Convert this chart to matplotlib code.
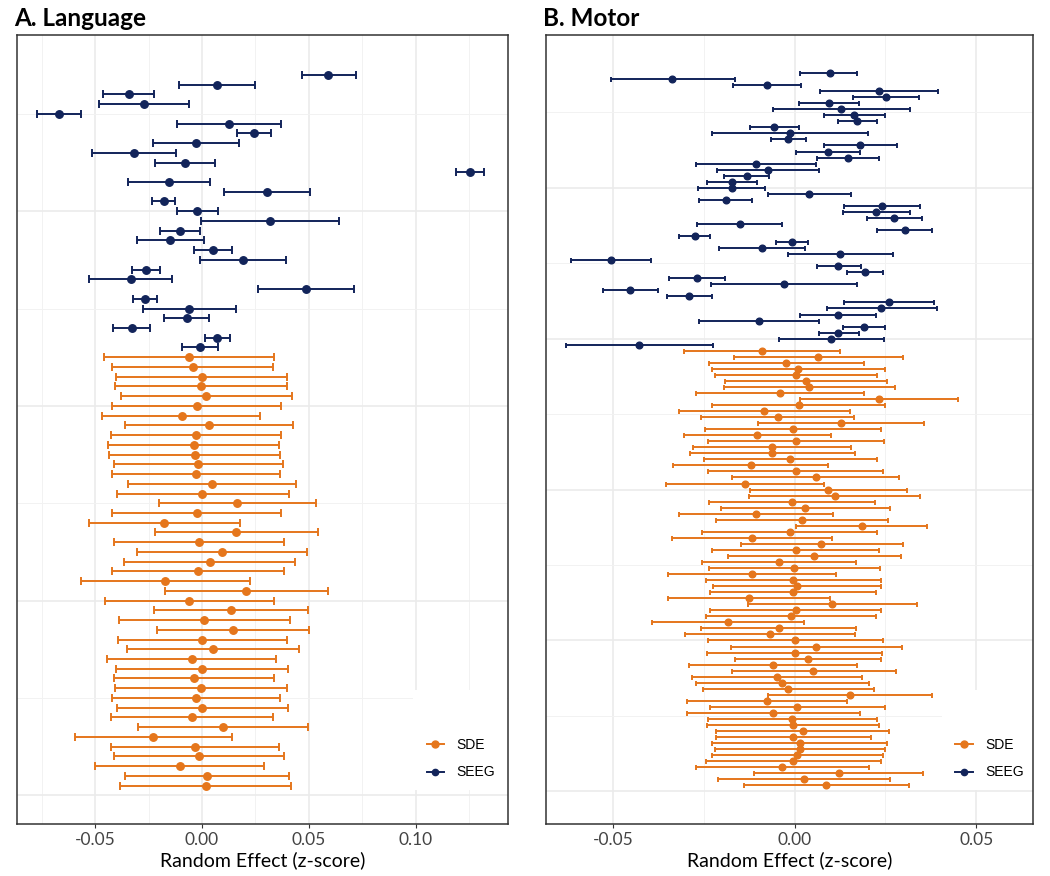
import numpy as np
import matplotlib
matplotlib.use("Agg")
import matplotlib.pyplot as plt
from matplotlib.lines import Line2D
from matplotlib.patches import Rectangle

# colours
SDE_COL = "#E5761C"
SEEG_COL = "#12245A"

# ---- A. Language (listed top row -> bottom row) ----
lang_seeg_est = [0.0591, 0.0070, -0.0342, -0.0273, -0.0670, 0.0128, 0.0242, -0.0028, -0.0317, -0.0081,
                 0.1255, -0.0153, 0.0303, -0.0180, -0.0022, 0.0319, -0.0105, -0.0148, 0.0052, 0.0194,
                 -0.0263, -0.0334, 0.0489, -0.0266, -0.0061, -0.0072, -0.0328, 0.0070, -0.0009]
lang_seeg_lo = [0.0466, -0.0106, -0.0461, -0.0481, -0.0773, -0.0116, 0.0163, -0.0230, -0.0513, -0.0220,
                0.1189, -0.0344, 0.0102, -0.0233, -0.0116, -0.0005, -0.0197, -0.0302, -0.0038, -0.0008,
                -0.0327, -0.0530, 0.0264, -0.0322, -0.0277, -0.0178, -0.0416, 0.0013, -0.0095]
lang_seeg_hi = [0.0719, 0.0248, -0.0225, -0.0063, -0.0566, 0.0372, 0.0325, 0.0172, -0.0123, 0.0059,
                0.1322, 0.0039, 0.0506, -0.0127, 0.0073, 0.0641, -0.0011, 0.0008, 0.0142, 0.0395,
                -0.0198, -0.0139, 0.0713, -0.0209, 0.0158, 0.0034, -0.0241, 0.0130, 0.0077]

lang_sde_est = [-0.0061, -0.0042, -0.0002, -0.0005, 0.0020, -0.0025, -0.0095, 0.0034, -0.0030, -0.0039,
                -0.0033, -0.0017, -0.0027, 0.0047, 0.0002, 0.0166, -0.0025, -0.0177, 0.0159, -0.0016,
                0.0092, 0.0036, -0.0019, -0.0172, 0.0206, -0.0061, 0.0136, 0.0011, 0.0147, 0.0002,
                0.0050, -0.0047, -0.0002, -0.0039, -0.0005, -0.0030, 0.0000, -0.0048, 0.0097, -0.0228,
                -0.0034, -0.0016, -0.0105, 0.0023, 0.0017]
lang_sde_lo = [-0.0459, -0.0419, -0.0402, -0.0406, -0.0380, -0.0423, -0.0466, -0.0358, -0.0428, -0.0439,
               -0.0433, -0.0411, -0.0422, -0.0345, -0.0398, -0.0200, -0.0423, -0.0530, -0.0222, -0.0413,
               -0.0306, -0.0363, -0.0420, -0.0564, -0.0175, -0.0456, -0.0225, -0.0388, -0.0209, -0.0392,
               -0.0352, -0.0444, -0.0403, -0.0413, -0.0406, -0.0423, -0.0400, -0.0428, -0.0300, -0.0595,
               -0.0428, -0.0414, -0.0500, -0.0361, -0.0383]
lang_sde_hi = [0.0339, 0.0331, 0.0400, 0.0398, 0.0422, 0.0372, 0.0273, 0.0427, 0.0370, 0.0361,
               0.0366, 0.0378, 0.0367, 0.0438, 0.0405, 0.0533, 0.0372, 0.0177, 0.0542, 0.0386,
               0.0492, 0.0436, 0.0384, 0.0225, 0.0588, 0.0338, 0.0497, 0.0413, 0.0503, 0.0397,
               0.0452, 0.0347, 0.0402, 0.0336, 0.0398, 0.0364, 0.0403, 0.0333, 0.0495, 0.0141,
               0.0361, 0.0386, 0.0292, 0.0408, 0.0416]

# ---- B. Motor (listed top row -> bottom row) ----
motor_seeg_est = [0.0098, -0.0336, -0.0076, 0.0231, 0.0252, 0.0094, 0.0128, 0.0164, 0.0173, -0.0056,
                  -0.0013, -0.0017, 0.0181, 0.0092, 0.0148, -0.0107, -0.0074, -0.0132, -0.0172, -0.0173,
                  0.0041, -0.0190, 0.0240, 0.0224, 0.0273, -0.0150, 0.0303, -0.0275, -0.0007, -0.0090,
                  0.0125, -0.0506, 0.0120, 0.0194, -0.0268, -0.0030, -0.0452, -0.0291, 0.0260, 0.0239,
                  0.0119, -0.0098, 0.0191, 0.0120, 0.0099, -0.0428]
motor_seeg_lo = [0.0014, -0.0506, -0.0169, 0.0071, 0.0161, 0.0012, -0.0059, 0.0080, 0.0120, -0.0122,
                 -0.0228, -0.0065, 0.0081, 0.0005, 0.0063, -0.0272, -0.0213, -0.0193, -0.0241, -0.0267,
                 -0.0072, -0.0264, 0.0135, 0.0132, 0.0198, -0.0268, 0.0228, -0.0317, -0.0051, -0.0207,
                 -0.0019, -0.0615, 0.0061, 0.0145, -0.0345, -0.0231, -0.0528, -0.0351, 0.0135, 0.0088,
                 0.0014, -0.0264, 0.0132, 0.0066, -0.0044, -0.0630]
motor_seeg_hi = [0.0171, -0.0165, 0.0017, 0.0394, 0.0343, 0.0178, 0.0317, 0.0250, 0.0227, 0.0012,
                 0.0202, 0.0032, 0.0281, 0.0180, 0.0233, 0.0059, 0.0066, -0.0070, -0.0103, -0.0082,
                 0.0155, -0.0116, 0.0346, 0.0317, 0.0350, -0.0035, 0.0379, -0.0234, 0.0036, 0.0028,
                 0.0271, -0.0395, 0.0182, 0.0242, -0.0192, 0.0172, -0.0376, -0.0228, 0.0383, 0.0392,
                 0.0224, 0.0068, 0.0250, 0.0177, 0.0245, -0.0225]

motor_sde_est = [-0.0090, 0.0064, -0.0023, 0.0010, 0.0004, 0.0032, 0.0041, -0.0041, 0.0231, 0.0011,
                 -0.0083, -0.0047, 0.0128, -0.0005, -0.0103, 0.0005, -0.0061, -0.0061, -0.0012, -0.0121,
                 0.0003, 0.0058, -0.0137, 0.0093, 0.0110,
                 -0.0007, 0.0030, -0.0106, 0.0021, 0.0185, -0.0014, -0.0118, 0.0073, 0.0003, 0.0054,
                 -0.0043, -0.0001, -0.0118, -0.0004, 0.0006, -0.0005, -0.0125, 0.0104, 0.0003, -0.0010,
                 -0.0183, -0.0044, -0.0068, 0.0001, 0.0060, 0.0001,
                 0.0037, -0.0059, 0.0052, -0.0048, -0.0034, -0.0017, 0.0153, -0.0076, 0.0007, -0.0060,
                 -0.0006, -0.0005, 0.0022, -0.0003, 0.0015, 0.0014, 0.0008, -0.0004, -0.0034, 0.0121,
                 0.0026, 0.0087]
motor_sde_lo = [-0.0304, -0.0168, -0.0235, -0.0228, -0.0219, -0.0191, -0.0193, -0.0271, 0.0015, -0.0226,
                -0.0317, -0.0257, -0.0101, -0.0246, -0.0305, -0.0237, -0.0280, -0.0289, -0.0250, -0.0335,
                -0.0238, -0.0171, -0.0354, -0.0124, -0.0125,
                -0.0236, -0.0203, -0.0317, -0.0217, 0.0005, -0.0254, -0.0338, -0.0147, -0.0226, -0.0183,
                -0.0254, -0.0235, -0.0349, -0.0244, -0.0225, -0.0232, -0.0347, -0.0129, -0.0232, -0.0244,
                -0.0393, -0.0258, -0.0301, -0.0239, -0.0176, -0.0240,
                -0.0165, -0.0290, -0.0173, -0.0281, -0.0270, -0.0252, -0.0072, -0.0295, -0.0234, -0.0296,
                -0.0239, -0.0241, -0.0217, -0.0215, -0.0226, -0.0220, -0.0227, -0.0243, -0.0271, -0.0111,
                -0.0211, -0.0140]
motor_sde_hi = [0.0125, 0.0297, 0.0190, 0.0248, 0.0228, 0.0253, 0.0276, 0.0190, 0.0449, 0.0248,
                0.0152, 0.0163, 0.0356, 0.0237, 0.0101, 0.0245, 0.0156, 0.0167, 0.0227, 0.0092,
                0.0244, 0.0287, 0.0080, 0.0309, 0.0345,
                0.0220, 0.0263, 0.0105, 0.0258, 0.0365, 0.0227, 0.0103, 0.0297, 0.0232, 0.0292,
                0.0168, 0.0235, 0.0114, 0.0237, 0.0237, 0.0224, 0.0097, 0.0337, 0.0238, 0.0223,
                0.0026, 0.0170, 0.0165, 0.0242, 0.0295, 0.0240,
                0.0237, 0.0173, 0.0278, 0.0185, 0.0204, 0.0218, 0.0378, 0.0143, 0.0248, 0.0179,
                0.0228, 0.0233, 0.0261, 0.0210, 0.0255, 0.0248, 0.0244, 0.0238, 0.0204, 0.0353,
                0.0262, 0.0316]


def draw_panel(ax, seeg, sde, xlim, ylim, xmajor, xminor, ymajor, yminor,
               xticklabels, ms, cap, legend_x0):
    n_seeg = len(seeg[0])
    n_sde = len(sde[0])
    n = n_seeg + n_sde
    y_seeg = np.arange(n, n_sde, -1)
    y_sde = np.arange(n_sde, 0, -1)

    for (est, lo, hi), y, col in ((sde, y_sde, SDE_COL), (seeg, y_seeg, SEEG_COL)):
        est = np.array(est)
        err = [est - np.array(lo), np.array(hi) - est]
        ax.errorbar(est, y, xerr=err, fmt="o", color=col, ms=ms, capsize=cap,
                    elinewidth=1.4, capthick=1.4, zorder=2)

    ax.set_xlim(*xlim)
    ax.set_ylim(*ylim)
    ax.set_xticks(xmajor)
    ax.set_xticklabels(xticklabels)
    ax.set_xticks(xminor, minor=True)
    ax.set_yticks(ymajor)
    ax.set_yticks(yminor, minor=True)
    ax.set_yticklabels([])
    ax.tick_params(axis="y", which="both", length=0)
    ax.tick_params(axis="x", which="minor", length=0)
    ax.tick_params(axis="x", which="major", length=3, color="#333333",
                   labelsize=12.5, labelcolor="#444444", pad=3)
    for lab in ax.get_xticklabels():
        lab.set_fontfamily("Lato")
    ax.set_axisbelow(True)
    ax.grid(which="major", color="#EBEBEB", lw=1.2)
    ax.grid(which="minor", color="#F2F2F2", lw=0.7)
    for s in ax.spines.values():
        s.set_color("#333333")
        s.set_linewidth(1.1)
    ax.set_xlabel("Random Effect (z-score)", fontsize=14, family="Lato", labelpad=2)

    # legend box
    ax.add_patch(Rectangle((legend_x0, 0.043), 1 - legend_x0 - 0.002, 0.127,
                           transform=ax.transAxes, facecolor="white",
                           edgecolor="none", zorder=3))
    handles = [Line2D([], [], color=SDE_COL, marker="o", ms=5, lw=1.4),
               Line2D([], [], color=SEEG_COL, marker="o", ms=4.5, lw=1.4)]
    leg = ax.legend(handles, ["SDE", "SEEG"], loc="center left",
                    bbox_to_anchor=(legend_x0 + 0.002, 0.083), frameon=False,
                    handlelength=1.25, handletextpad=0.9, labelspacing=1.0,
                    prop={"family": "Liberation Sans", "size": 10})
    leg.set_zorder(4)


fig = plt.figure(figsize=(10.5, 8.76), dpi=100)
axA = fig.add_axes([16.5 / 1050, 52 / 876, 491.5 / 1050, 789 / 876])
axB = fig.add_axes([546 / 1050, 52 / 876, 487 / 1050, 789 / 876])

draw_panel(axA, (lang_seeg_est, lang_seeg_lo, lang_seeg_hi),
           (lang_sde_est, lang_sde_lo, lang_sde_hi),
           xlim=(-0.0868, 0.1432), ylim=(-2.95, 78.1),
           xmajor=[-0.05, 0.0, 0.05, 0.10], xminor=[-0.075, -0.025, 0.025, 0.075, 0.125],
           ymajor=[0, 20, 40, 60], yminor=[10, 30, 50, 70],
           xticklabels=["-0.05", "0.00", "0.05", "0.10"], ms=5.4, cap=3.2,
           legend_x0=0.807)

draw_panel(axB, (motor_seeg_est, motor_seeg_lo, motor_seeg_hi),
           (motor_sde_est, motor_sde_lo, motor_sde_hi),
           xlim=(-0.0684, 0.0656), ylim=(-5.4, 125.3),
           xmajor=[-0.05, 0.0, 0.05], xminor=[-0.025, 0.025],
           ymajor=[0, 25, 50, 75, 100], yminor=[12.5, 37.5, 62.5, 87.5, 112.5],
           xticklabels=["-0.05", "0.00", "0.05"], ms=4.8, cap=1.8,
           legend_x0=0.813)

fig.text(14 / 1050, 1 - 18 / 876, "A. Language", fontsize=17.5, fontweight="bold",
         family="Lato", va="center", ha="left")
fig.text(543 / 1050, 1 - 18 / 876, "B. Motor", fontsize=17.5, fontweight="bold",
         family="Lato", va="center", ha="left")

fig.savefig("out.png", dpi=100)
